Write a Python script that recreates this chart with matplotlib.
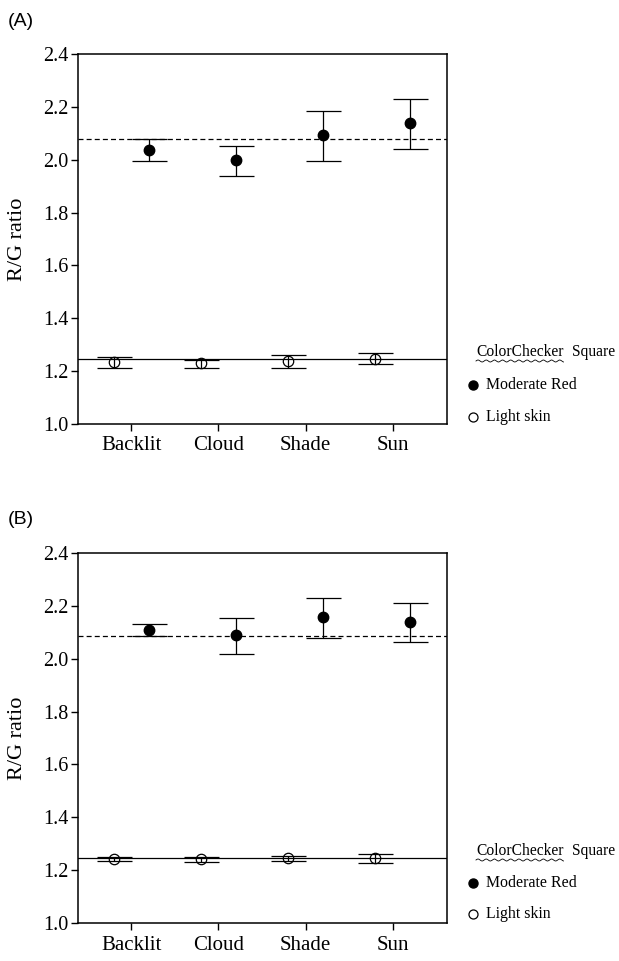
import numpy as np
import matplotlib
matplotlib.use("Agg")
import matplotlib.pyplot as plt
from matplotlib.lines import Line2D

categories = ["Backlit", "Cloud", "Shade", "Sun"]
yticks = [1.0, 1.2, 1.4, 1.6, 1.8, 2.0, 2.2, 2.4]

# Panel A
a_red = [2.038, 2.000, 2.092, 2.140]
a_red_hi = [2.077, 2.052, 2.183, 2.231]
a_red_lo = [1.995, 1.940, 1.994, 2.042]
a_skin = [1.236, 1.232, 1.238, 1.247]
a_skin_hi = [1.255, 1.242, 1.260, 1.268]
a_skin_lo = [1.213, 1.212, 1.211, 1.228]
a_red_ref = 2.077
a_skin_ref = 1.245

# Panel B
b_red = [2.108, 2.089, 2.158, 2.138]
b_red_hi = [2.131, 2.153, 2.230, 2.211]
b_red_lo = [2.085, 2.018, 2.079, 2.063]
b_skin = [1.243, 1.244, 1.248, 1.247]
b_skin_hi = [1.252, 1.252, 1.254, 1.263]
b_skin_lo = [1.234, 1.232, 1.234, 1.226]
b_red_ref = 2.084
b_skin_ref = 1.248

plt.rcParams['font.family'] = ['Liberation Serif', 'DejaVu Serif']
W, H = 619, 961
fig = plt.figure(figsize=(W/100, H/100), dpi=100)

def draw_panel(rect, red, rhi, rlo, skin, shi, slo, rref, sref, label, leg_y):
    ax = fig.add_axes(rect)
    x = np.arange(1, len(categories)+1)
    ax.axhline(rref, color='black', lw=0.9, ls=(0, (4, 2.5)), zorder=1)
    ax.axhline(sref, color='black', lw=0.9, zorder=1)
    red = np.array(red); skin = np.array(skin)
    ax.errorbar(x + 0.2, red, yerr=[red - np.array(rlo), np.array(rhi) - red],
                fmt='o', color='black', ms=7.5, mfc='black', mec='black',
                ecolor='black', elinewidth=0.9, capsize=12.6, capthick=0.9, zorder=3)
    ax.errorbar(x - 0.2, skin, yerr=[skin - np.array(slo), np.array(shi) - skin],
                fmt='o', color='black', ms=7.5, mfc='none', mec='black', mew=0.9,
                ecolor='black', elinewidth=0.9, capsize=12.6, capthick=0.9, zorder=3)
    ax.set_xlim(0.39, 4.62)
    ax.set_ylim(1.0, 2.4)
    ax.set_xticks(x)
    ax.set_xticklabels(categories, fontsize=15)
    ax.set_yticks(yticks)
    ax.set_yticklabels([f"{v:.1f}" for v in yticks], fontsize=14.5)
    ax.tick_params(direction='out', length=5, width=1, pad=2)
    ax.tick_params(axis='x', pad=4)
    for s in ax.spines.values():
        s.set_linewidth(1.1)
    ax.set_ylabel("R/G ratio", fontsize=16)
    ax.yaxis.set_label_coords((27 - rect[0]*W) / (rect[2]*W), 0.5)
    fig.text(8/W, 1 - leg_y[0]/H, label, family='Liberation Sans', fontsize=14,
             ha='left', va='center')
    # legend
    t1 = fig.text(476/W, 1 - leg_y[1]/H, "ColorChecker", fontsize=11.2, ha='left', va='center')
    fig.text(572/W, 1 - leg_y[1]/H, "Square", fontsize=11.2, ha='left', va='center')
    fig.add_artist(Line2D([473/W], [1 - leg_y[2]/H], marker='o', ms=6.5, color='black',
                          mfc='black', transform=fig.transFigure))
    fig.text(486/W, 1 - leg_y[2]/H, "Moderate Red", fontsize=11.4, ha='left', va='center')
    fig.add_artist(Line2D([473/W], [1 - leg_y[3]/H], marker='o', ms=6.5, color='black',
                          mfc='none', mew=0.9, transform=fig.transFigure))
    fig.text(486/W, 1 - leg_y[3]/H, "Light skin", fontsize=11.4, ha='left', va='center')
    return t1

ta = draw_panel([78/W, 1 - 424/H, (447-78)/W, 370/H], a_red, a_red_hi, a_red_lo,
                a_skin, a_skin_hi, a_skin_lo, a_red_ref, a_skin_ref, "(A)", (22, 352, 385, 417))
tb = draw_panel([78/W, 1 - 923.3/H, (447-78)/W, 370.6/H], b_red, b_red_hi, b_red_lo,
                b_skin, b_skin_hi, b_skin_lo, b_red_ref, b_skin_ref, "(B)", (520, 851, 883, 914))

# wavy underline under "ColorChecker"
r = fig.canvas.get_renderer()
for t in (ta, tb):
    bb = t.get_window_extent(renderer=r)
    xs = np.linspace(bb.x0, bb.x1, 200)
    ys = bb.y0 - 1.0 + 1.0 * np.sin((xs - bb.x0) / 1.3)
    fig.add_artist(Line2D(xs / W, ys / H, color='black', lw=0.6, transform=fig.transFigure))

fig.savefig("out.png", dpi=100)
